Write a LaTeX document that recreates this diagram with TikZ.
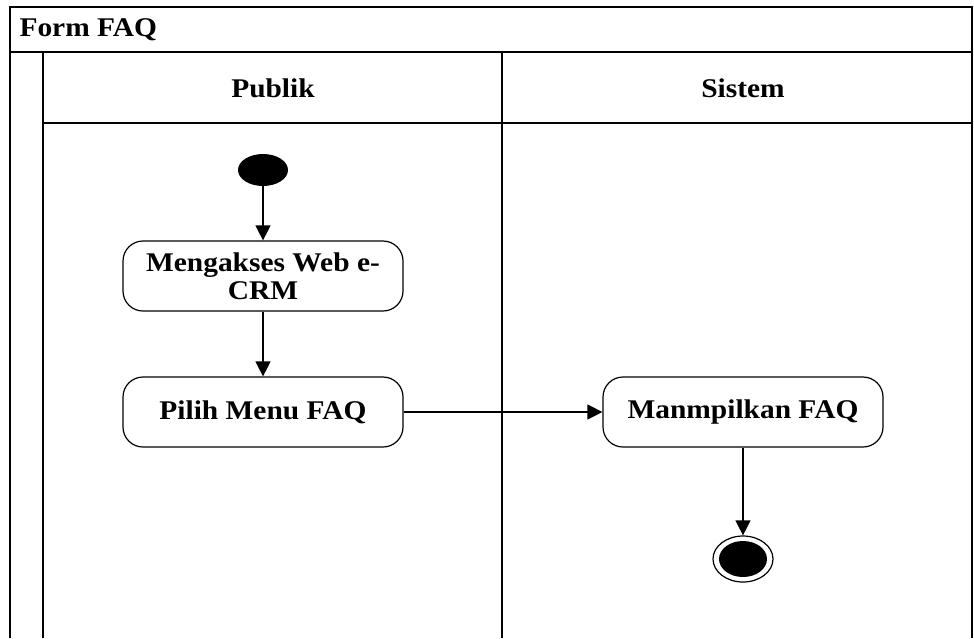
\documentclass[tikz,border=0pt]{standalone}
\usepackage{fontspec}
\setmainfont{Liberation Serif}[FakeStretch=1.09]
\usetikzlibrary{shapes.geometric,arrows.meta}

\tikzset{
  lane/.style={line width=1.5pt},
  act/.style={draw, line width=1.2pt, rounded corners=20pt, minimum width=280, minimum height=70, align=center, inner sep=2pt, font=\fontsize{27}{26}\selectfont\bfseries},
  flow/.style={line width=1.2pt, -{Triangle[length=15pt,width=15pt]}},
  lbl/.style={font=\fontsize{27}{28}\selectfont\bfseries}
}

\begin{document}
\begin{tikzpicture}[x=1pt,y=-1pt]
    \useasboundingbox (0,0) rectangle (974,638);
\draw[lane] (10, 638) -- (10, 7) -- (972, 7) -- (972, 638) ; % frame
\draw[lane] (10, 52) -- (972, 52) ; % title line
\draw[lane] (43, 52) -- (43, 638) ; % inner left
\draw[lane] (43, 123) -- (972, 123) ; % header line
\draw[lane] (502, 52) -- (502, 638) ; % lane divider
\node[lbl, anchor=west] (title) at (16, 30) {Form FAQ}; % title
\node[lbl] (publik) at (273, 88) {Publik}; % lane 1
\node[lbl] (sistem) at (743, 88) {Sistem}; % lane 2
\node[ellipse, fill=black, minimum width=50, minimum height=32, inner sep=0pt] (start) at (263, 170) {}; % start
\node[act, font=\fontsize{27}{25}\selectfont\bfseries] (akses) at (263, 276) {Mengakses Web e-\\[3pt]CRM}; % activity 1
\node[act] (menu) at (263, 412) {Pilih Menu FAQ}; % activity 2
\node[act] (tampil) at (743, 412) {Manmpilkan FAQ}; % activity 3
\node[ellipse, draw, line width=1.2pt, fill=white, minimum width=60, minimum height=46, inner sep=0pt] (stop) at (743, 559) {}; % end
\fill (stop.center) ellipse [x radius=24, y radius=18] ; % end dot
\draw[flow] (start) -- (akses) ;
\draw[flow] (akses) -- (menu) ;
\draw[flow] (menu) -- (tampil) ;
\draw[flow] (tampil) -- (stop) ;
    \end{tikzpicture}
\end{document}
